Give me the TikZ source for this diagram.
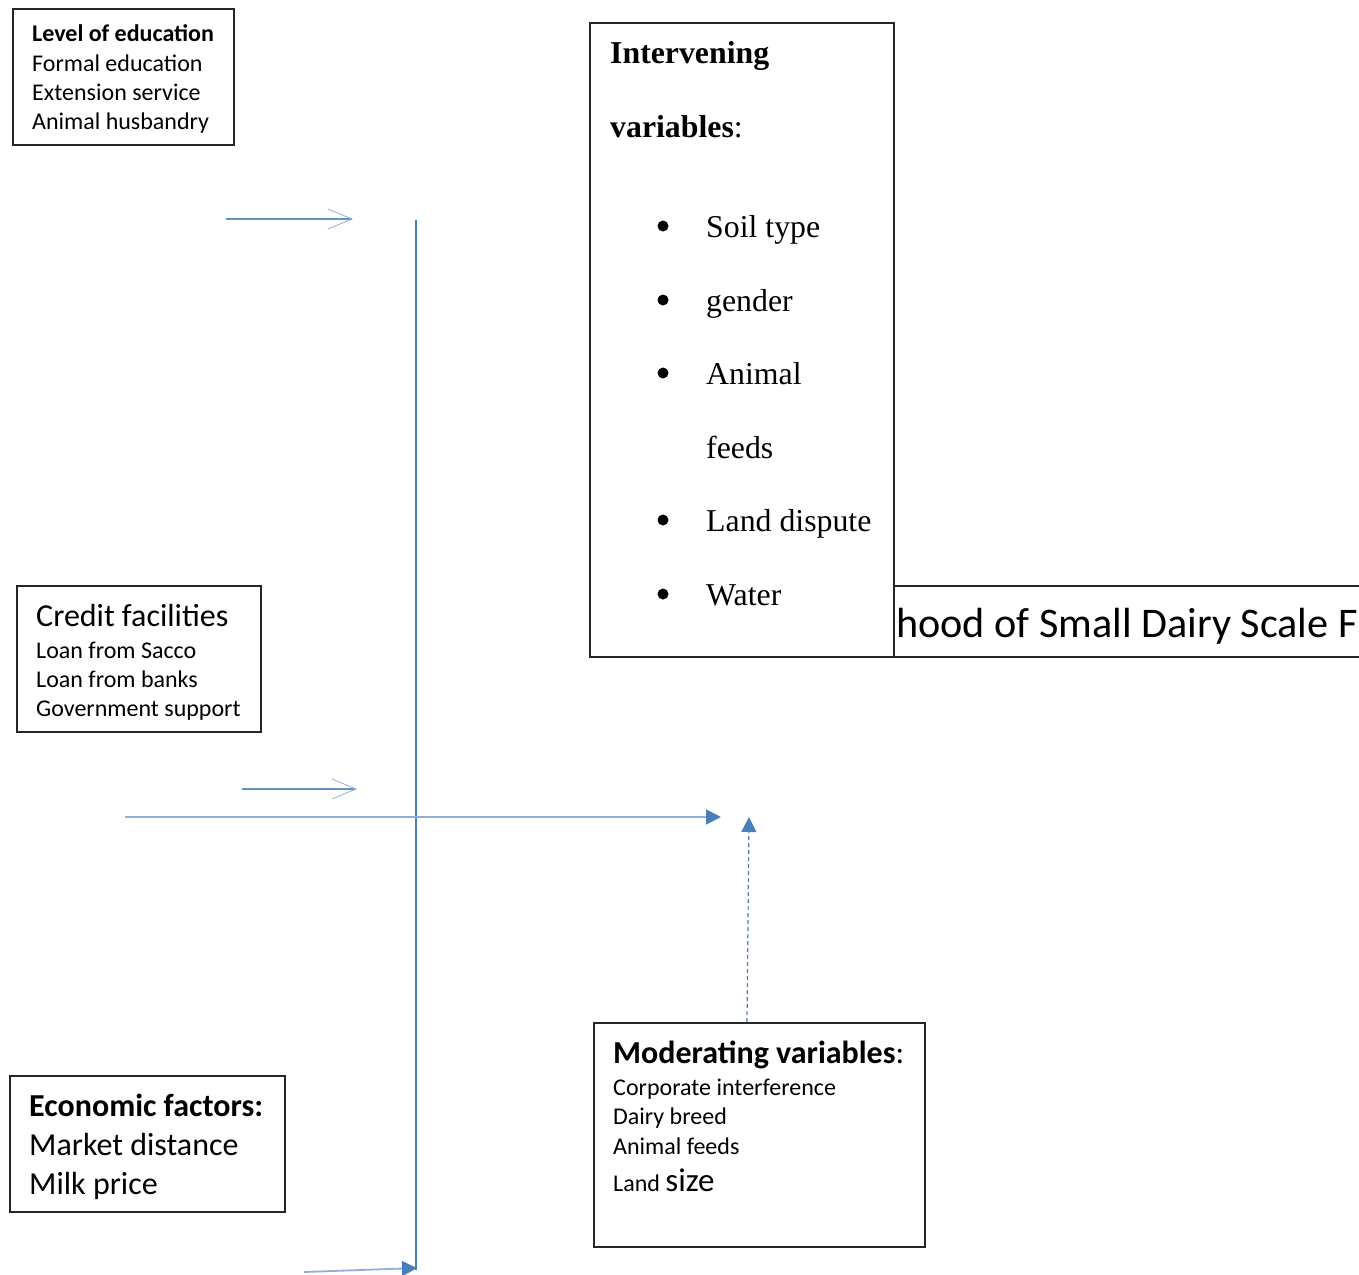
\documentclass[tikz,border=0pt]{standalone}
\usepackage{fontspec}
\setmainfont{Carlito}
\newfontfamily\serifF{Liberation Serif}
\usetikzlibrary{arrows.meta}
\definecolor{lineblue}{HTML}{4A7EBB}
\definecolor{lightblue}{HTML}{8FAEDA}
\tikzset{
  box/.style={draw=black!85, line width=1.2pt},
  ln/.style={anchor=base west, inner sep=0pt, font=\fontsize{24}{29}\selectfont},
  lnbig/.style={anchor=base west, inner sep=0pt, font=\fontsize{32}{39}\selectfont},
  sf/.style={anchor=base west, inner sep=0pt, font=\serifF\fontsize{31.8}{37}\selectfont},
  conn/.style={draw=lineblue, line width=1.4pt},
  openarr/.style={draw=lineblue!85, line width=1.1pt, -{Straight Barb[length=24pt,width=20pt,line width=0.8pt,color=lightblue]}},
  fillarr/.style={draw=lightblue, line width=1.8pt, -{Triangle[length=15pt,width=15pt,color=lineblue]}},
}
\begin{document}
\begin{tikzpicture}[x=1pt,y=-1pt]
\useasboundingbox (0,0) rectangle (1359,1274);
% boxes
\draw[box] (13,9) rectangle (234,145);
\draw[box] (590,23) rectangle (894,657);
\draw[box] (17,586) rectangle (261,732);
\draw[box] (10,1076) rectangle (285,1212);
\draw[box] (594,1023) rectangle (925,1247);
\draw[box] (1370,586) -- (894,586) -- (894,657) -- (1370,657);
% level of education
\node[ln, font=\bfseries\fontsize{24}{29}\selectfont] (edu) at (32,41) {Level of education};
\node[ln] (edu1) at (32,71) {Formal education};
\node[ln] (edu2) at (32,100) {Extension service};
\node[ln] (edu3) at (32,129) {Animal husbandry};
% credit
\node[lnbig] (cred) at (36,626) {Credit facilities};
\node[ln] (cred1) at (36,658) {Loan from Sacco};
\node[ln] (cred2) at (36,687) {Loan from banks};
\node[ln] (cred3) at (36,716) {Government support};
% economic
\node[lnbig, font=\bfseries\fontsize{32}{39}\selectfont] (eco) at (29,1116) {Economic factors:};
\node[lnbig] (eco1) at (29,1155) {Market distance};
\node[lnbig] (eco2) at (29,1194) {Milk price};
% moderating
\node[lnbig] (mod) at (613,1063) {\textbf{Moderating variables}:};
\node[ln] (mod1) at (613,1095) {Corporate interference};
\node[ln] (mod2) at (613,1124) {Dairy breed};
\node[ln] (mod3) at (613,1154) {Animal feeds};
\node[ln] (mod4) at (613,1191) {Land \fontsize{33}{37}\selectfont size};
% intervening
\node[sf] (int1) at (610,63) {\textbf{Intervening}};
\node[sf] (int2) at (610,137) {\textbf{variables}:};
\foreach \y/\t/\b in {237/Soil type/1, 311/gender/1, 384/Animal/1, 458/feeds/0, 531/Land dispute/1, 605/Water/1}{
  \node[sf] (it\y) at (706,\y) {\t};
  \ifnum\b=1 \fill (663,\y-11) circle (5.5pt); \fi
}
% dependent variable (clipped)
\begin{scope}
\clip (896,588) rectangle (1359,655);
\node[anchor=base west, inner sep=0pt, font=\fontsize{42.2}{50}\selectfont] (dep) at (896,637) {hood of Small Dairy Scale F};
\end{scope}
% connectors
\coordinate (vtop) at (416,220);
\coordinate (vbot) at (416,1270);
\draw[conn] (vtop) -- (vbot);
\coordinate (a1s) at (226,219); \coordinate (a1e) at (353,219);
\draw[openarr] (a1s) -- (a1e);
\coordinate (a2s) at (242,789); \coordinate (a2e) at (357,789);
\draw[openarr] (a2s) -- (a2e);
\coordinate (hs) at (125,817); \coordinate (he) at (721,817);
\draw[fillarr] (hs) -- (he);
\coordinate (ds) at (747,1022); \coordinate (de) at (749,817);
\draw[draw=lineblue, line width=1.2pt, dash pattern=on 4pt off 3pt, -{Triangle[length=15pt,width=15pt,color=lineblue]}] (ds) -- (de);
\coordinate (bs) at (304,1272); \coordinate (be) at (417,1268);
\draw[fillarr] (bs) -- (be);
\end{tikzpicture}
\end{document}
